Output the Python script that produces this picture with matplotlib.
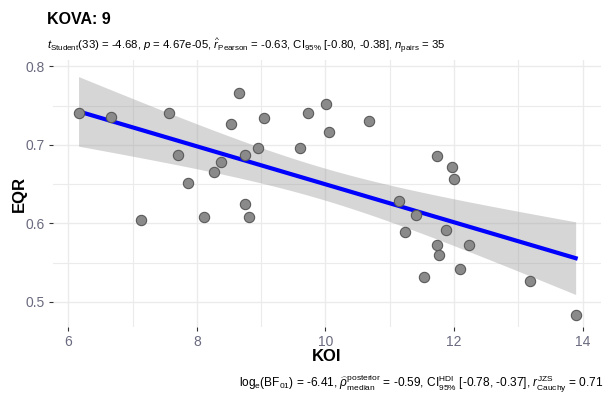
import numpy as np
import matplotlib
matplotlib.use("Agg")
import matplotlib.pyplot as plt
from matplotlib.ticker import MultipleLocator

koi = [6.16, 6.66, 7.13, 7.57, 7.71, 7.86, 8.11, 8.27, 8.38, 8.53, 8.66, 8.75, 8.75,
       8.81, 8.95, 9.05, 9.61, 9.73, 10.01, 10.06, 10.67, 11.73, 11.96, 12.00, 11.14,
       11.40, 11.23, 11.87, 11.74, 11.77, 12.23, 12.09, 11.53, 13.18, 13.89]
eqr = [0.740, 0.735, 0.604, 0.740, 0.687, 0.651, 0.608, 0.666, 0.678, 0.726, 0.766,
       0.687, 0.625, 0.608, 0.696, 0.734, 0.696, 0.740, 0.752, 0.716, 0.730, 0.686,
       0.672, 0.656, 0.629, 0.611, 0.589, 0.592, 0.572, 0.560, 0.572, 0.542, 0.532,
       0.527, 0.483]

title = "KOVA: 9"
subtitle = (r"$\mathit{t}_{\mathrm{Student}}$(33) = -4.68, $\mathit{p}$ = 4.67e-05, "
            r"$\widehat{\mathit{r}}_{\mathrm{Pearson}}$ = -0.63, CI$_{95\%}$ [-0.80, -0.38], "
            r"$\mathit{n}_{\mathrm{pairs}}$ = 35")
caption = (r"log$_{\mathrm{e}}$(BF$_{01}$) = -6.41, "
           r"$\widehat{\rho}_{\mathrm{median}}^{\mathrm{posterior}}$ = -0.59, "
           r"CI$_{95\%}^{\mathrm{HDI}}$ [-0.78, -0.37], "
           r"$\mathit{r}_{\mathrm{Cauchy}}^{\mathrm{JZS}}$ = 0.71")

plt.rcParams['font.family'] = ['Liberation Sans', 'DejaVu Sans']
plt.rcParams['mathtext.fontset'] = 'custom'
plt.rcParams['mathtext.rm'] = 'Liberation Sans'
plt.rcParams['mathtext.it'] = 'Liberation Sans:italic'
plt.rcParams['mathtext.bf'] = 'Liberation Sans:bold'

fig = plt.figure(figsize=(6.09, 4.01), dpi=100)
ax = fig.add_axes([0.0878, 0.1845, 0.8986, 0.6659])

x = np.array(koi)
y = np.array(eqr)
n = len(x)
b1, b0 = np.polyfit(x, y, 1)
xs = np.linspace(x.min(), x.max(), 80)
ys = b0 + b1 * xs
res = y - (b0 + b1 * x)
s = np.sqrt(np.sum(res ** 2) / (n - 2))
se = s * np.sqrt(1 / n + (xs - x.mean()) ** 2 / np.sum((x - x.mean()) ** 2))
tq = 2.0345
ax.fill_between(xs, ys - tq * se, ys + tq * se, color='#999999', alpha=0.4, lw=0, zorder=2)
ax.plot(xs, ys, color='#0000ff', lw=3, zorder=3)
ax.scatter(x, y, s=55, facecolor='#8a8a8a', edgecolor='#5a5a5a', linewidths=0.8, zorder=4)

ax.set_xlim(5.77, 14.28)
ax.set_ylim(0.468, 0.808)
ax.xaxis.set_minor_locator(MultipleLocator(1))
ax.yaxis.set_minor_locator(MultipleLocator(0.05))
ax.set_xticks([6, 8, 10, 12, 14])
ax.set_xticklabels(['6', '8', '10', '12', '14'])
ax.set_yticks([0.5, 0.6, 0.7, 0.8])
ax.set_yticklabels(['0.5', '0.6', '0.7', '0.8'])
ax.grid(True, which='major', color='#ebebeb', lw=1.0, zorder=0)
ax.grid(True, which='minor', color='#ebebeb', lw=0.8, zorder=0)
ax.set_axisbelow(True)
for sp in ax.spines.values():
    sp.set_visible(False)
ax.tick_params(which='major', length=3, width=0.8, color='#333333', labelsize=10,
               labelcolor='#6a6a80', pad=3)
ax.tick_params(which='minor', length=0)

ax.set_xlabel('KOI', fontsize=12, fontweight='bold', labelpad=0)
ax.set_ylabel('EQR', fontsize=12, fontweight='bold', labelpad=-1)

fig.text(47 / 609, 1 - 20 / 401, title, fontsize=11.5, fontweight='bold', va='center', ha='left')
fig.text(47 / 609, 1 - 46 / 401, subtitle, fontsize=8.2, va='center', ha='left')
fig.text(603 / 609, 1 - 384 / 401, caption, fontsize=8.6, va='center', ha='right')

fig.savefig('out.png', dpi=100, facecolor='white')
